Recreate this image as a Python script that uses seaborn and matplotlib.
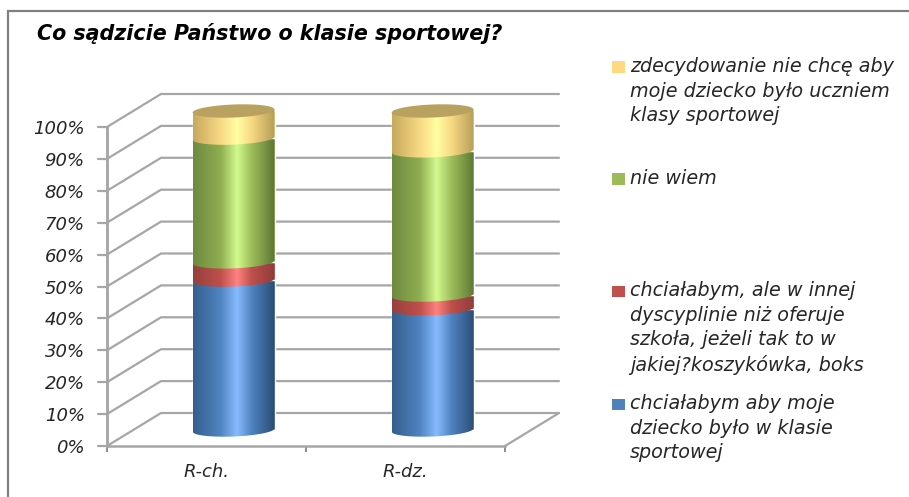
import numpy as np
import pandas as pd
import matplotlib
matplotlib.use("Agg")
import matplotlib.pyplot as plt
from matplotlib.colors import LinearSegmentedColormap
from matplotlib.lines import Line2D
from matplotlib.patches import Polygon, Rectangle
from matplotlib.transforms import Affine2D
import seaborn as sns

categories = ["R-ch.", "R-dz."]
title = "Co sądzicie Państwo o klasie sportowej?"
series_labels = [
    "chciałabym aby moje\ndziecko było w klasie\nsportowej",
    "chciałabym, ale w innej\ndyscyplinie niż oferuje\nszkoła, jeżeli tak to w\njakiej?koszykówka, boks",
    "nie wiem",
    "zdecydowanie nie chcę aby\nmoje dziecko było uczniem\nklasy sportowej",
]
blue_values = [47.0, 38.0]
red_values = [5.7, 4.3]
green_values = [38.8, 45.2]
yellow_values = [8.5, 12.5]
series_values = [blue_values, red_values, green_values, yellow_values]
yticks = list(range(0, 101, 10))

base_colors = ["#4F81BD", "#C0504D", "#9BBB59", "#FFD97F"]
gradients = [
    ["#34608F", "#4F83C0", "#86BBFF", "#4F83C0", "#2B4C73"],
    ["#97403D", "#BE4F4C", "#FF8280", "#BE4F4C", "#8F3C3A"],
    ["#6E8A3F", "#8FAD50", "#D2F98E", "#9DBD5A", "#5D7634"],
    ["#C7A95E", "#F7D883", "#FFFFA2", "#F7D883", "#B59C58"],
]
gradient_stops = [0.0, 0.33, 0.54, 0.72, 1.0]
cap_color = "#B9A25F"
grid_color = "#A6A6A6"
text_color = "#262626"

W, H = 909, 497
L, R, B, T = 107, 505, 446, 127
sns.set_theme(style="white")
plt.rcParams["font.family"] = ["DejaVu Sans"]
fig = plt.figure(figsize=(W / 100, H / 100), dpi=100)
ax = fig.add_axes([L / W, (H - B) / H, (R - L) / W, (B - T) / H])

px_x = (R - L) / 2.0
px_y = (B - T) / 100.0
back_dx, back_dy = 54 / px_x, 33 / px_y
bar_dx, bar_dy = 27 / px_x, 16 / px_y
bar_w = 82 / px_x
ry, tilt = 6.5 / px_y, 1.6 / px_y

long_df = pd.DataFrame({"cat": categories})
bottoms = np.zeros(len(categories))
u = np.linspace(-1, 1, 81)
shift = Affine2D().translate(bar_dx, bar_dy)
z = 3
for vals, col, grad in zip(series_values, base_colors, gradients):
    long_df["v"] = vals
    n_before = len(ax.patches)
    sns.barplot(data=long_df, x="cat", y="v", bottom=bottoms, width=bar_w, color=col,
                saturation=1, ax=ax, zorder=z, clip_on=False)
    for p in ax.patches[n_before:]:
        p.set_transform(shift + ax.transData)
        p.set_clip_on(False)
    cmap = LinearSegmentedColormap.from_list("c", list(zip(gradient_stops, grad)))
    tops = bottoms + np.array(vals)
    for i in range(len(categories)):
        cx = i + bar_dx
        xs = cx + u * bar_w / 2
        low = bottoms[i] + bar_dy + tilt * u - ry * np.sqrt(1 - u ** 2)
        up = tops[i] + bar_dy + tilt * u
        clip = Polygon(np.r_[np.c_[xs, low], np.c_[xs[::-1], up[::-1]]], closed=True,
                       transform=ax.transData, fill=False, lw=0, clip_on=False)
        ax.add_patch(clip)
        im = ax.imshow(np.linspace(0, 1, 128)[None, :], cmap=cmap, aspect="auto",
                       extent=(cx - bar_w / 2, cx + bar_w / 2, -10, 125), zorder=z + 0.5,
                       interpolation="bilinear")
        im.set_clip_path(clip)
        im.set_clip_box(fig.bbox)
    bottoms = tops
    z += 1

for i in range(len(categories)):
    cx = i + bar_dx
    xs = cx + u * bar_w / 2
    lvl = bottoms[i] + bar_dy
    pts = np.r_[np.c_[xs, lvl + tilt * u - ry * np.sqrt(1 - u ** 2)],
                np.c_[xs[::-1], (lvl + tilt * u + ry * np.sqrt(1 - u ** 2))[::-1]]]
    ax.add_patch(Polygon(pts, closed=True, fc=cap_color, ec="none", zorder=z, clip_on=False))

for v in yticks:
    ax.plot([-0.5, -0.5 + back_dx, 1.5 + back_dx], [v, v + back_dy, v + back_dy],
            color=grid_color, lw=1.6, zorder=1, clip_on=False, solid_joinstyle="miter")
    ax.plot([-0.5 - 9 / px_x, -0.5], [v, v], color=grid_color, lw=1.6, zorder=2, clip_on=False)
ax.plot([1.5, 1.5 + back_dx], [0, back_dy], color=grid_color, lw=1.6, zorder=1, clip_on=False)
ax.plot([-0.5, -0.5], [0, 100], color=grid_color, lw=1.8, zorder=2, clip_on=False)

ax.set_xlim(-0.5, 1.5)
ax.set_ylim(0, 100)
ax.set_xlabel("")
ax.set_ylabel("")
ax.patch.set_alpha(0)
for s in ("top", "right"):
    ax.spines[s].set_visible(False)
for s in ("left", "bottom"):
    ax.spines[s].set_visible(True)
    ax.spines[s].set_color(grid_color)
    ax.spines[s].set_linewidth(1.8)
    ax.spines[s].set_zorder(2)

ax.set_yticks(yticks)
ax.set_yticklabels([f"{v}%" for v in yticks], fontsize=13, style="italic", color=text_color)
ax.tick_params(axis="y", left=True, length=6.5, width=1.4, color=grid_color, pad=9.5)
ax.set_xticks([-0.5, 0.5, 1.5])
ax.set_xticklabels([])
ax.set_xticks([0, 1], minor=True)
ax.set_xticklabels(categories, minor=True, fontsize=13, style="italic", color=text_color)
ax.tick_params(axis="x", which="major", bottom=True, length=4, width=1.4, color="#8C8C8C")
ax.tick_params(axis="x", which="minor", bottom=False, length=0, pad=12.5)

fig.add_artist(Line2D([8 / W, 8 / W, 1], [0, 1 - 11 / H, 1 - 11 / H], transform=fig.transFigure,
                      color="#808080", lw=1.6, solid_joinstyle="miter"))
fig.text(37 / W, 1 - 34 / H, title, fontsize=14.9, fontweight="bold", style="italic",
         color="black", va="center", ha="left")

legend_y = [404, 291, 179, 67]
for lab, col, y in zip(series_labels, base_colors, legend_y):
    fig.add_artist(Rectangle((612 / W, 1 - (y + 5.5) / H), 13 / W, 11 / H,
                             transform=fig.transFigure, fc=col, ec="none"))
    fig.text(630 / W, 1 - (y - 10) / H, lab, fontsize=13.8, style="italic", color=text_color,
             va="top", ha="left", linespacing=1.37)

fig.savefig("out.png", dpi=100)
